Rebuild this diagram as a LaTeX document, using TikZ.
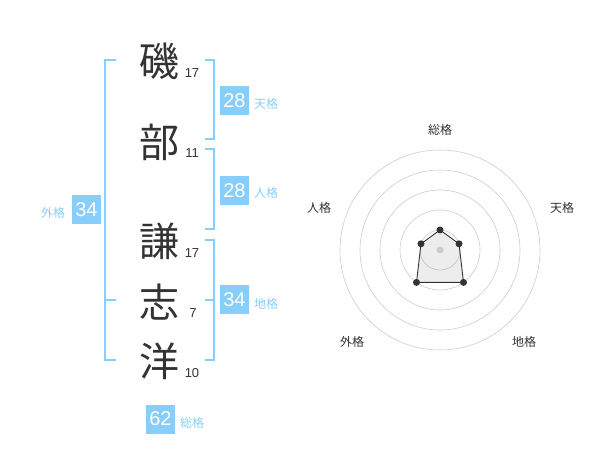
\documentclass[tikz,border=0pt]{standalone}
\usepackage{fontspec}
\setmainfont{Liberation Sans}
\newfontfamily\jp{Noto Sans CJK JP}
\definecolor{sky}{HTML}{87CEFA}
\definecolor{ink}{HTML}{333333}
\definecolor{ring}{HTML}{CCCCCC}
\tikzset{
  kanji/.style={inner sep=0pt, text=ink, font=\jp\fontsize{40}{40}\selectfont},
  stroke/.style={inner sep=0pt, text=ink, font=\fontsize{13}{13}\selectfont},
  valbox/.style={fill=sky, text=white, minimum width=29pt, minimum height=29pt, inner sep=0pt, font=\fontsize{20}{20}\selectfont},
  kaku/.style={inner sep=0pt, text=sky, font=\jp\fontsize{12}{12}\selectfont},
  radlabel/.style={inner sep=0pt, text=ink, font=\jp\fontsize{12}{12}\selectfont},
  bracket/.style={draw=sky, line width=1.6pt},
  ringline/.style={draw=ring, line width=0.6pt},
  dot/.style={circle, fill=ink, inner sep=0pt, minimum size=7pt},
}
\begin{document}
\begin{tikzpicture}[x=1pt,y=-1pt]
\useasboundingbox (0,0) rectangle (600,470);
% characters
\node[kanji] (c1) at (159,61) {磯};
\node[kanji] (c2) at (159,142) {部};
\node[kanji] (c3) at (159,241) {謙};
\node[kanji] (c4) at (159,302) {志};
\node[kanji] (c5) at (159,361) {洋};
\node[stroke] (n1) at (192,73) {17};
\node[stroke] (n2) at (192,153) {11};
\node[stroke] (n3) at (192,253) {17};
\node[stroke] (n4) at (193,313) {7};
\node[stroke] (n5) at (192,373) {10};
% brackets
\draw[bracket] (116,60) -- (105,60) -- (105,360) -- (116,360);
\draw[bracket] (105,300) -- (116,300);
\draw[bracket] (205,60) -- (214,60) -- (214,139) -- (205,139);
\draw[bracket] (205,149) -- (214,149) -- (214,229) -- (205,229);
\draw[bracket] (205,240) -- (214,240) -- (214,360) -- (205,360);
\draw[bracket] (214,300) -- (205,300);
% value boxes
\node[valbox] (b1) at (234.5,100.5) {28};
\node[kaku] (k1) at (266,104) {天格};
\node[valbox] (b2) at (234.5,190.5) {28};
\node[kaku] (k2) at (266,193) {人格};
\node[valbox] (b3) at (234.5,300) {34};
\node[kaku] (k3) at (266,304) {地格};
\node[valbox] (b4) at (86.5,210) {34};
\node[kaku] (k4) at (53,213) {外格};
\node[valbox] (b5) at (160.5,419) {62};
\node[kaku] (k5) at (192,423) {総格};
% radar
\coordinate (o) at (440,250);
\foreach \r in {20,40,60,80,100} \draw[ringline] (o) circle[radius=\r];
\coordinate (p1) at (440,230);
\coordinate (p2) at (459.0,243.8);
\coordinate (p3) at (463.5,282.4);
\coordinate (p4) at (416.5,282.4);
\coordinate (p5) at (421.0,243.8);
\fill[black, opacity=0.07] (p1) -- (p2) -- (p3) -- (p4) -- (p5) -- cycle;
\draw[ink, line width=0.9pt] (p1) -- (p2) -- (p3) -- (p4) -- (p5) -- cycle;
\foreach \p in {p1,p2,p3,p4,p5} \node[dot] at (\p) {};
\node[circle, fill=ring, inner sep=0pt, minimum size=7pt] (ctr) at (o) {};
\node[radlabel] (r1) at (440,130) {総格};
\node[radlabel] (r2) at (562,208) {天格};
\node[radlabel] (r3) at (319,208) {人格};
\node[radlabel] (r4) at (352,342) {外格};
\node[radlabel] (r5) at (524,342) {地格};
\end{tikzpicture}
\end{document}
